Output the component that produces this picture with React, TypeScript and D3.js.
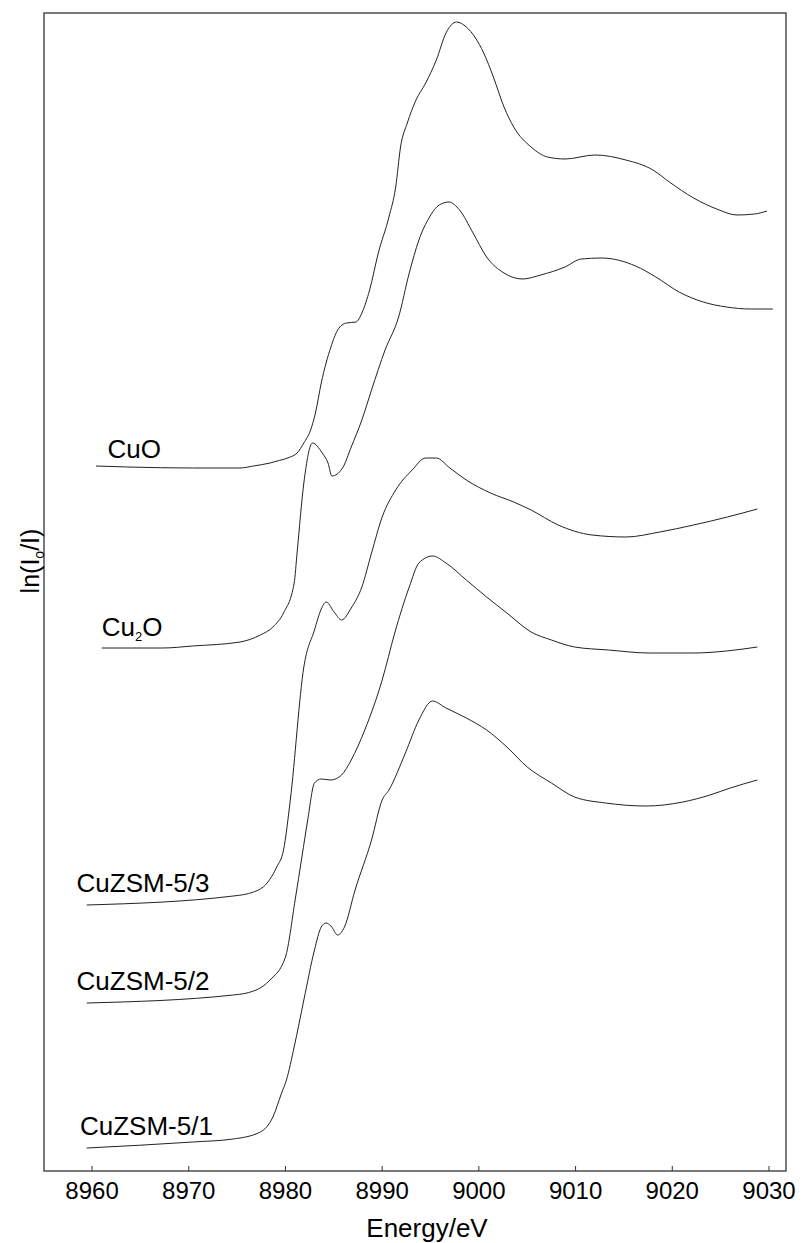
import React from "react";
import * as d3 from "d3";

// ---- data (energy in eV, absorbance in arbitrary offset units) ----
const cuoE = [8960.4, 8963.7, 8970.4, 8975.3, 8976.7, 8978.4, 8979.4, 8980.4, 8981.2, 8981.9, 8982.6, 8983.1, 8983.7, 8984.7, 8985.4, 8986.3, 8987.3, 8987.9, 8988.7, 8989.6, 8990.7, 8991.4, 8991.9, 8992.6, 8993.5, 8994.5, 8995.6, 8996.6, 8997.7, 8998.7, 9000.5, 9001.5, 9002.6, 9003.6, 9005.4, 9007.1, 9008.9, 9012.0, 9015.2, 9018.0, 9019.7, 9022.2, 9024.6, 9026.7, 9028.5, 9029.8];
const cuoV = [3.525, 3.52, 3.515, 3.515, 3.525, 3.54, 3.553, 3.568, 3.59, 3.64, 3.705, 3.79, 3.94, 4.12, 4.205, 4.24, 4.245, 4.29, 4.405, 4.59, 4.77, 4.92, 5.12, 5.24, 5.355, 5.44, 5.555, 5.69, 5.745, 5.72, 5.59, 5.47, 5.32, 5.22, 5.12, 5.07, 5.06, 5.08, 5.055, 5.005, 4.945, 4.865, 4.81, 4.78, 4.785, 4.8];

const cu2oE = [8961.0, 8967.3, 8970.4, 8975.3, 8977.4, 8978.7, 8979.8, 8980.9, 8981.2, 8981.9, 8982.8, 8983.8, 8984.4, 8984.8, 8985.9, 8986.8, 8987.9, 8988.9, 8990.3, 8991.7, 8992.8, 8993.8, 8994.9, 8995.9, 8996.9, 8998.0, 8999.4, 9000.8, 9002.6, 9004.5, 9006.4, 9008.9, 9010.6, 9012.7, 9016.2, 9018.3, 9020.7, 9023.2, 9025.6, 9028.1, 9030.4];
const cu2oV = [2.615, 2.615, 2.625, 2.645, 2.68, 2.72, 2.79, 2.94, 3.09, 3.44, 3.64, 3.59, 3.54, 3.475, 3.515, 3.62, 3.755, 3.905, 4.105, 4.27, 4.49, 4.655, 4.77, 4.83, 4.845, 4.805, 4.69, 4.57, 4.49, 4.46, 4.48, 4.52, 4.56, 4.565, 4.525, 4.47, 4.395, 4.345, 4.32, 4.31, 4.31];

const zsm3E = [8959.45, 8974.6, 8976.7, 8978.1, 8979.1, 8979.8, 8980.5, 8981.9, 8983.0, 8983.7, 8984.2, 8985.1, 8985.8, 8986.8, 8987.9, 8988.9, 8990.0, 8991.4, 8993.1, 8994.5, 8995.6, 8997.0, 8998.7, 9001.2, 9003.6, 9005.4, 9008.2, 9011.7, 9015.2, 9018.7, 9022.2, 9025.7, 9028.8];
const zsm3V = [1.33, 1.375, 1.395, 1.44, 1.52, 1.605, 1.855, 2.52, 2.705, 2.81, 2.845, 2.79, 2.755, 2.815, 2.92, 3.09, 3.27, 3.405, 3.505, 3.565, 3.565, 3.515, 3.455, 3.39, 3.345, 3.305, 3.23, 3.18, 3.17, 3.195, 3.23, 3.27, 3.31];

const zsm2E = [8959.45, 8974.6, 8976.7, 8977.7, 8978.4, 8980.0, 8981.0, 8981.7, 8982.3, 8983.0, 8983.7, 8984.7, 8985.8, 8986.8, 8988.2, 8990.0, 8991.3, 8992.8, 8993.8, 8995.2, 8996.6, 8998.7, 9000.8, 9002.9, 9005.4, 9007.5, 9009.9, 9013.4, 9017.6, 9022.2, 9025.6, 9028.8];
const zsm2V = [0.84, 0.88, 0.9, 0.925, 0.955, 1.07, 1.355, 1.57, 1.755, 1.94, 1.96, 1.955, 1.98, 2.055, 2.205, 2.455, 2.69, 2.92, 3.04, 3.075, 3.04, 2.955, 2.87, 2.79, 2.695, 2.655, 2.62, 2.605, 2.59, 2.59, 2.6, 2.62];

const zsm1E = [8959.45, 8970.4, 8974.6, 8977.4, 8978.7, 8979.6, 8980.1, 8980.9, 8981.9, 8983.0, 8983.7, 8984.2, 8984.7, 8985.4, 8986.1, 8987.2, 8988.9, 8990.0, 8990.7, 8992.4, 8993.8, 8995.2, 8996.6, 8998.7, 9000.8, 9002.9, 9005.0, 9007.5, 9009.9, 9013.1, 9017.3, 9021.1, 9023.9, 9026.0, 9028.8];
const zsm1V = [0.115, 0.145, 0.16, 0.195, 0.27, 0.39, 0.455, 0.62, 0.855, 1.105, 1.22, 1.24, 1.225, 1.18, 1.22, 1.405, 1.655, 1.855, 1.905, 2.09, 2.255, 2.35, 2.315, 2.265, 2.205, 2.12, 2.02, 1.94, 1.87, 1.84, 1.825, 1.845, 1.88, 1.915, 1.955];

const xTicks = [8960, 8970, 8980, 8990, 9000, 9010, 9020, 9030];

// label anchor (energy, value) for each sample name
const labelE = [8961.6, 8961.0, 8958.4, 8958.4, 8958.75];
const labelV = [3.565, 2.675, 1.397, 0.905, 0.18];

const FONT = "'Liberation Sans', Arial, Helvetica, sans-serif";

export default function App() {
  const W = 802;
  const H = 1243;
  const x = d3.scaleLinear().domain([8955.03, 9031.76]).range([44, 786]);
  const y = d3.scaleLinear().domain([0, 5.79]).range([1171, 13]);

  const series = [
    { e: cuoE, v: cuoV },
    { e: cu2oE, v: cu2oV },
    { e: zsm3E, v: zsm3V },
    { e: zsm2E, v: zsm2V },
    { e: zsm1E, v: zsm1V },
  ];

  const line = d3
    .line<[number, number]>()
    .x((d) => x(d[0]))
    .y((d) => y(d[1]))
    .curve(d3.curveMonotoneX);

  const labels: React.ReactNode[] = [
    <tspan key="a">CuO</tspan>,
    <>
      <tspan>Cu</tspan>
      <tspan fontSize={13} dy={5}>2</tspan>
      <tspan dy={-5}>O</tspan>
    </>,
    <tspan>CuZSM-5/3</tspan>,
    <tspan>CuZSM-5/2</tspan>,
    <tspan>CuZSM-5/1</tspan>,
  ];

  return (
    <div style={{ position: "absolute", left: 0, top: 0 }}>
      <svg width={W} height={H} style={{ display: "block", background: "#fff" }} fontFamily={FONT}>
        <rect x={0} y={0} width={W} height={H} fill="#fff" />
        {/* frame */}
        <rect x={44} y={13} width={742} height={1158} fill="none" stroke="#333" strokeWidth={1.3} />
        {/* ticks */}
        {xTicks.map((t) => (
          <g key={t}>
            <line x1={x(t)} x2={x(t)} y1={1171} y2={1166} stroke="#333" strokeWidth={1} />
            <text x={x(t)} y={1199} textAnchor="middle" fontSize={24} fill="#000">
              {t}
            </text>
          </g>
        ))}
        <text x={427} y={1237} textAnchor="middle" fontSize={26} fill="#000">
          Energy/eV
        </text>
        <text transform="translate(39,561) rotate(-90)" textAnchor="middle" fontSize={25} fill="#000">
          <tspan>ln(I</tspan>
          <tspan fontSize={14} dy={5}>o</tspan>
          <tspan dy={-5}>/I)</tspan>
        </text>
        {/* curves */}
        {series.map((s, i) => (
          <path
            key={i}
            d={line(s.e.map((e, j) => [e, s.v[j]] as [number, number])) || ""}
            fill="none"
            stroke="#222"
            strokeWidth={1}
          />
        ))}
        {/* sample labels */}
        {labels.map((l, i) => (
          <text key={i} x={x(labelE[i])} y={y(labelV[i])} fontSize={26} fill="#000">
            {l}
          </text>
        ))}
      </svg>
    </div>
  );
}
